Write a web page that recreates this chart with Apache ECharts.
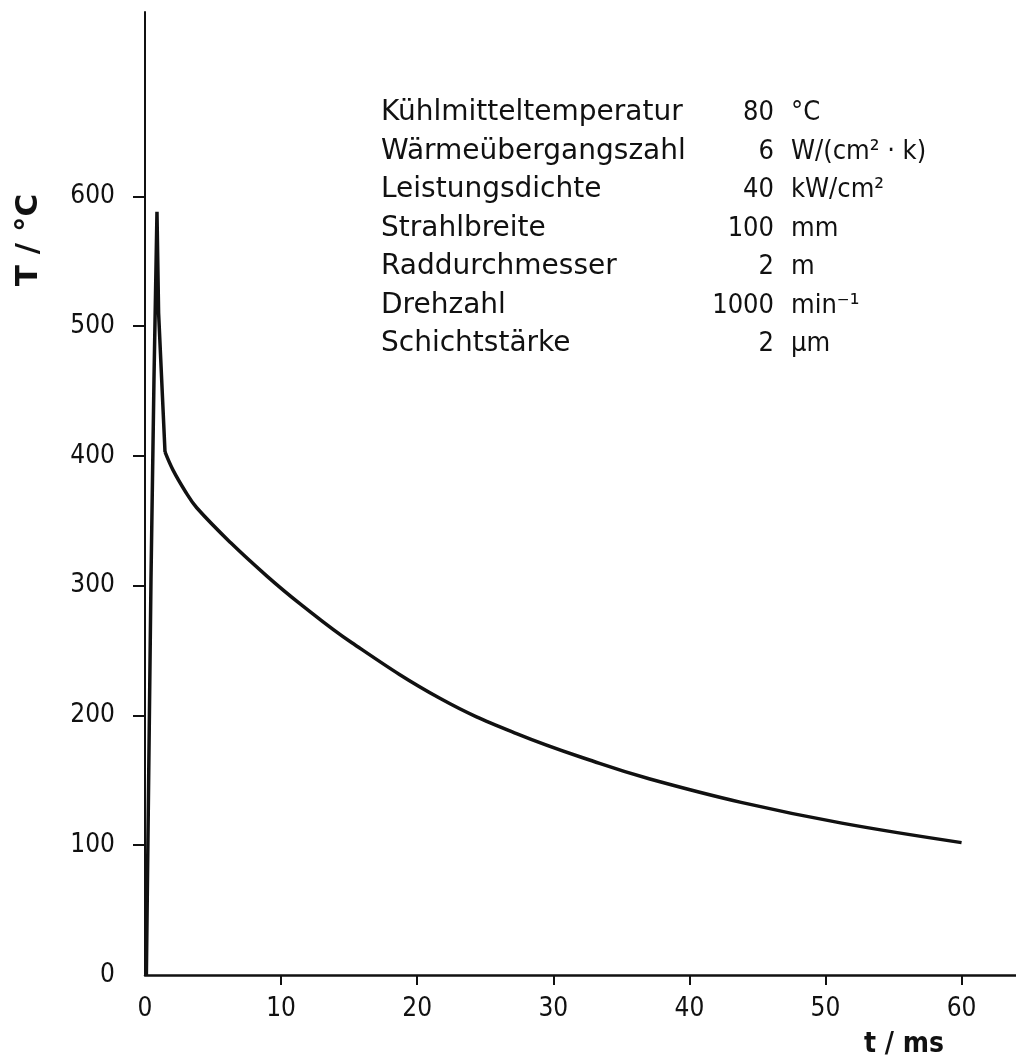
<!DOCTYPE html>
<html>
<head>
<meta charset="utf-8">
<script src="https://cdn.jsdelivr.net/npm/echarts@6/dist/echarts.min.js"></script>
<style>
  html, body { margin: 0; padding: 0; background: #fff; }
  #chart { width: 1016px; height: 1063px; }
</style>
</head>
<body>
<div id="chart"></div>
<script>
// tick labels
const xTicks = [0, 10, 20, 30, 40, 50, 60];
const yTicks = [0, 100, 200, 300, 400, 500, 600];

// steep heating spike (t in ms, T in degC)
const spike = [[0.1, 0], [0.44, 305], [0.66, 459], [0.88, 588], [1.0, 510], [1.47, 403]];
// cooling curve after the beam
const decay = [
  [1.47, 403], [2.06, 389], [3.0, 372], [3.8, 360], [6.3, 333], [9.0, 307],
  [11.4, 286], [15.2, 256], [21.7, 213], [27.3, 186], [33.4, 163], [37.1, 151],
  [43.8, 133], [51.2, 117], [60.0, 102]
];

// parameter table
const paramNames = ['Kühlmitteltemperatur', 'Wärmeübergangszahl', 'Leistungsdichte', 'Strahlbreite', 'Raddurchmesser', 'Drehzahl', 'Schichtstärke'];
const paramValues = ['80', '6', '40', '100', '2', '1000', '2'];
const paramUnits = ['°C', 'W/(cm² · k)', 'kW/cm²', 'mm', 'm', 'min⁻¹', 'µm'];

const wide = '"DejaVu Sans", sans-serif';
const narrow = '"DejaVu Sans Condensed", "DejaVu Sans", sans-serif';
const ink = '#111';

const chart = echarts.init(document.getElementById('chart'));

const graphics = [];
paramNames.forEach((name, i) => {
  const y = 113 + i * 38.5;
  graphics.push({ type: 'text', x: 381, y: y, style: { text: name, font: '28px ' + wide, fill: ink, align: 'left', verticalAlign: 'middle' } });
  graphics.push({ type: 'text', x: 774, y: y, style: { text: paramValues[i], font: '27px ' + narrow, fill: ink, align: 'right', verticalAlign: 'middle' } });
  graphics.push({ type: 'text', x: 791, y: y, style: { text: paramUnits[i], font: '27px ' + narrow, fill: ink, align: 'left', verticalAlign: 'middle' } });
});
graphics.push({ type: 'text', x: 29, y: 240, rotation: Math.PI / 2, style: { text: 'T / °C', font: 'bold 31px ' + wide, fill: ink, align: 'center', verticalAlign: 'middle' } });
graphics.push({ type: 'text', x: 904, y: 1045, style: { text: 't / ms', font: 'bold 28px ' + narrow, fill: ink, align: 'center', verticalAlign: 'middle' } });

chart.setOption({
  backgroundColor: '#fff',
  animation: false,
  grid: { left: 145, right: 0, top: 12, bottom: 88 },
  xAxis: {
    type: 'value', min: 0, max: 64, interval: 10,
    axisLine: { lineStyle: { color: ink, width: 2.5 } },
    axisTick: { show: true, length: 10, lineStyle: { color: ink, width: 2 }, customValues: xTicks.slice(1) },
    axisLabel: { customValues: xTicks, margin: 21, fontSize: 26, fontFamily: narrow, color: ink },
    splitLine: { show: false }
  },
  yAxis: {
    type: 'value', min: 0, max: 742, interval: 100,
    axisLine: { show: true, lineStyle: { color: ink, width: 2 } },
    axisTick: { show: true, length: 12, lineStyle: { color: ink, width: 2 }, customValues: yTicks.slice(1) },
    axisLabel: { customValues: yTicks, margin: 30, fontSize: 26, fontFamily: narrow, color: ink },
    splitLine: { show: false }
  },
  series: [
    { type: 'line', data: spike, showSymbol: false, lineStyle: { color: ink, width: 3.5 } },
    { type: 'line', data: decay, smooth: 0.4, showSymbol: false, lineStyle: { color: ink, width: 3.5 } }
  ],
  graphic: graphics
});
</script>
</body>
</html>
